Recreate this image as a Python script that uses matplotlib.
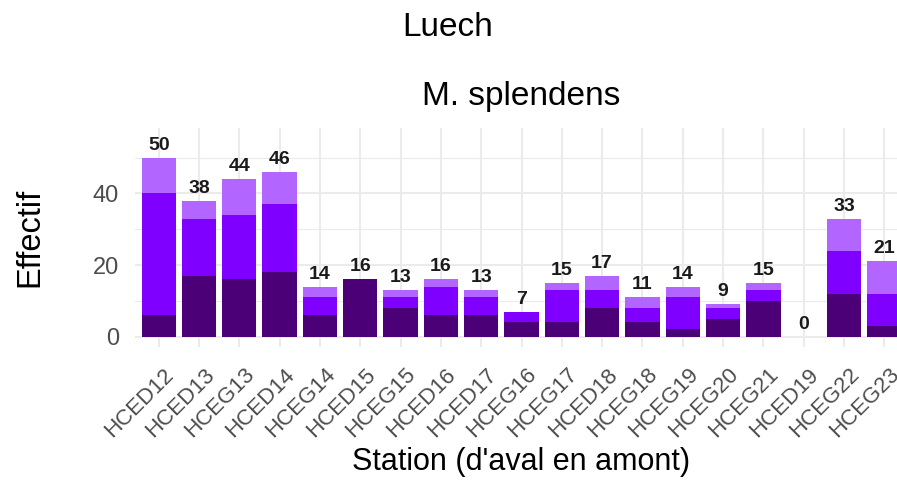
import numpy as np
import matplotlib
matplotlib.use("Agg")
from matplotlib import pyplot as plt
from matplotlib.transforms import ScaledTranslation

plt.rcParams['font.family'] = ['Liberation Sans', 'DejaVu Sans']

## stations, upstream order
stations = ["HCED12", "HCED13", "HCEG13", "HCED14", "HCEG14", "HCED15",
            "HCEG15", "HCED16", "HCED17", "HCEG16", "HCEG17", "HCED18",
            "HCEG18", "HCEG19", "HCEG20", "HCEG21", "HCED19", "HCEG22",
            "HCEG23"]
## counts per class (bottom -> top)
dark = [6, 17, 16, 18, 6, 16, 8, 6, 6, 4, 4, 8, 4, 2, 5, 10, 0, 12, 3]
mid = [34, 16, 18, 19, 5, 0, 3, 8, 5, 3, 9, 5, 4, 9, 3, 3, 0, 12, 9]
light = [10, 5, 10, 9, 3, 0, 2, 2, 2, 0, 2, 4, 3, 3, 1, 2, 0, 9, 9]
totals = [50, 38, 44, 46, 14, 16, 13, 16, 13, 7, 15, 17, 11, 14, 9, 15, 0, 33, 21]

col_dark = '#4B0078'
col_mid = '#8000FF'
col_light = '#B266FF'
grid_col = '#EBEBEB'
txt_grey = '#4D4D4D'

W, H = 897, 480
fig = plt.figure(figsize=(W/100, H/100), dpi=100)
## panel in pixel units -> figure fractions
left, right, top, bottom = 134.5, 908.5, 128, 346.5
ax = fig.add_axes([left/W, 1 - bottom/H, (right-left)/W, (bottom-top)/H])

x = np.arange(len(stations))
d = np.array(dark)
m = np.array(mid)
l = np.array(light)
ax.bar(x, d, width=0.85, color=col_dark, zorder=3)
ax.bar(x, m, width=0.85, bottom=d, color=col_mid, zorder=3)
ax.bar(x, l, width=0.85, bottom=d+m, color=col_light, zorder=3)

for xi, t in zip(x, totals):
    ax.annotate(str(t), (xi, t), xytext=(0, 4), textcoords='offset pixels',
                ha='center', va='bottom', fontsize=14, fontweight='bold',
                color='#1A1A1A', zorder=4)

ax.set_xlim(-0.6, len(stations) - 0.4)
ax.set_ylim(-2.75, 58.3)
ax.set_yticks([0, 20, 40])
ax.set_yticks([10, 30, 50], minor=True)
ax.set_xticks(x)
ax.set_xticklabels(stations)

ax.grid(True, which='major', color=grid_col, linewidth=1.5, zorder=0)
ax.grid(True, which='minor', axis='y', color=grid_col, linewidth=0.8, zorder=0)
for s in ax.spines.values():
    s.set_visible(False)
ax.tick_params(axis='both', which='both', length=0)
ax.tick_params(axis='y', labelsize=17, labelcolor=txt_grey, pad=11)
ax.tick_params(axis='x', labelsize=16, labelcolor=txt_grey, pad=18)

shift = ScaledTranslation(12/100, 0, fig.dpi_scale_trans)
for lab in ax.get_xticklabels():
    lab.set_rotation(45)
    lab.set_rotation_mode('anchor')
    lab.set_ha('right')
    lab.set_va('center')
    lab.set_transform(lab.get_transform() + shift)

## titles and axis labels
fig.text(448/W, 1 - 27/H, 'Luech', ha='center', va='center', fontsize=24)
fig.text((left+right)/2/W, 1 - 97/H, 'M. splendens', ha='center', va='center', fontsize=24)
fig.text(30/W, 1 - 237/H, 'Effectif', ha='center', va='center', rotation=90, fontsize=23.5)
fig.text((left+right)/2/W, 1 - 462/H, "Station (d'aval en amont)", ha='center', va='center', fontsize=22)

fig.savefig('out.png', dpi=100, facecolor='white')
